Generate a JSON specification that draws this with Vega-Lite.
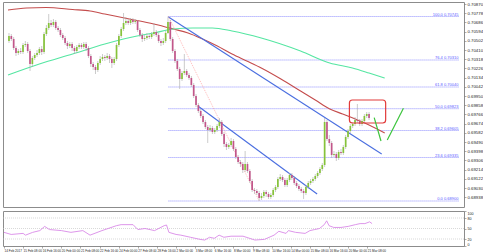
{
  "$schema": "https://vega.github.io/schema/vega-lite/v6.json",
  "padding": {"left": 1, "top": 1, "right": 0, "bottom": 0},
  "background": "white",
  "spacing": 2,
  "config": {
    "view": {"stroke": "#8c8c8c", "strokeWidth": 1},
    "font": "Liberation Sans",
    "axis": {"labelFont": "Liberation Sans", "labelFontSize": 4.3, "labelColor": "#222222", "tickSize": 2, "tickColor": "#777777", "tickWidth": 0.6, "labelPadding": 1, "domain": false, "grid": false, "title": null, "labelOverlap": false}
  },
  "datasets": {
    "candles": [
      {"i":0,"o":0.7050,"h":0.7058,"l":0.7048,"c":0.7055},
      {"i":1,"o":0.7055,"h":0.7057,"l":0.7050,"c":0.7052},
      {"i":2,"o":0.7052,"h":0.7054,"l":0.7041,"c":0.7043},
      {"i":3,"o":0.7043,"h":0.7045,"l":0.7035,"c":0.7038},
      {"i":4,"o":0.7038,"h":0.7042,"l":0.7036,"c":0.7040},
      {"i":5,"o":0.7040,"h":0.7043,"l":0.7037,"c":0.7039},
      {"i":6,"o":0.7039,"h":0.7048,"l":0.7037,"c":0.7046},
      {"i":7,"o":0.7046,"h":0.7050,"l":0.7044,"c":0.7047},
      {"i":8,"o":0.7047,"h":0.7049,"l":0.7038,"c":0.7040},
      {"i":9,"o":0.7040,"h":0.7042,"l":0.7020,"c":0.7027},
      {"i":10,"o":0.7027,"h":0.7035,"l":0.7024,"c":0.7033},
      {"i":11,"o":0.7033,"h":0.7038,"l":0.7031,"c":0.7036},
      {"i":12,"o":0.7036,"h":0.7041,"l":0.7034,"c":0.7038},
      {"i":13,"o":0.7038,"h":0.7044,"l":0.7036,"c":0.7042},
      {"i":14,"o":0.7042,"h":0.7045,"l":0.7036,"c":0.7039},
      {"i":15,"o":0.7039,"h":0.7059,"l":0.7037,"c":0.7057},
      {"i":16,"o":0.7057,"h":0.7066,"l":0.7055,"c":0.7063},
      {"i":17,"o":0.7063,"h":0.7077,"l":0.7061,"c":0.7068},
      {"i":18,"o":0.7068,"h":0.7071,"l":0.7064,"c":0.7066},
      {"i":19,"o":0.7066,"h":0.7072,"l":0.7064,"c":0.7069},
      {"i":20,"o":0.7069,"h":0.7071,"l":0.7061,"c":0.7063},
      {"i":21,"o":0.7063,"h":0.7065,"l":0.7059,"c":0.7061},
      {"i":22,"o":0.7061,"h":0.7063,"l":0.7054,"c":0.7056},
      {"i":23,"o":0.7056,"h":0.7058,"l":0.7051,"c":0.7053},
      {"i":24,"o":0.7053,"h":0.7055,"l":0.7046,"c":0.7048},
      {"i":25,"o":0.7048,"h":0.7050,"l":0.7042,"c":0.7045},
      {"i":26,"o":0.7045,"h":0.7049,"l":0.7043,"c":0.7047},
      {"i":27,"o":0.7047,"h":0.7049,"l":0.7040,"c":0.7043},
      {"i":28,"o":0.7043,"h":0.7045,"l":0.7037,"c":0.7040},
      {"i":29,"o":0.7040,"h":0.7046,"l":0.7038,"c":0.7044},
      {"i":30,"o":0.7044,"h":0.7048,"l":0.7042,"c":0.7046},
      {"i":31,"o":0.7046,"h":0.7048,"l":0.7042,"c":0.7044},
      {"i":32,"o":0.7044,"h":0.7049,"l":0.7042,"c":0.7047},
      {"i":33,"o":0.7047,"h":0.7049,"l":0.7040,"c":0.7043},
      {"i":34,"o":0.7043,"h":0.7045,"l":0.7033,"c":0.7035},
      {"i":35,"o":0.7035,"h":0.7037,"l":0.7024,"c":0.7027},
      {"i":36,"o":0.7027,"h":0.7029,"l":0.7021,"c":0.7024},
      {"i":37,"o":0.7024,"h":0.7026,"l":0.7017,"c":0.7021},
      {"i":38,"o":0.7021,"h":0.7030,"l":0.7019,"c":0.7028},
      {"i":39,"o":0.7028,"h":0.7035,"l":0.7026,"c":0.7032},
      {"i":40,"o":0.7032,"h":0.7037,"l":0.7030,"c":0.7034},
      {"i":41,"o":0.7034,"h":0.7036,"l":0.7030,"c":0.7033},
      {"i":42,"o":0.7033,"h":0.7038,"l":0.7031,"c":0.7035},
      {"i":43,"o":0.7035,"h":0.7037,"l":0.7028,"c":0.7032},
      {"i":44,"o":0.7032,"h":0.7034,"l":0.7023,"c":0.7028},
      {"i":45,"o":0.7028,"h":0.7034,"l":0.7026,"c":0.7032},
      {"i":46,"o":0.7032,"h":0.7048,"l":0.7030,"c":0.7046},
      {"i":47,"o":0.7046,"h":0.7057,"l":0.7044,"c":0.7055},
      {"i":48,"o":0.7055,"h":0.7064,"l":0.7053,"c":0.7062},
      {"i":49,"o":0.7062,"h":0.7078,"l":0.7060,"c":0.7068},
      {"i":50,"o":0.7068,"h":0.7074,"l":0.7066,"c":0.7070},
      {"i":51,"o":0.7070,"h":0.7072,"l":0.7066,"c":0.7068},
      {"i":52,"o":0.7068,"h":0.7073,"l":0.7066,"c":0.7071},
      {"i":53,"o":0.7071,"h":0.7073,"l":0.7067,"c":0.7069},
      {"i":54,"o":0.7069,"h":0.7072,"l":0.7067,"c":0.7070},
      {"i":55,"o":0.7070,"h":0.7071,"l":0.7059,"c":0.7061},
      {"i":56,"o":0.7061,"h":0.7063,"l":0.7054,"c":0.7056},
      {"i":57,"o":0.7056,"h":0.7058,"l":0.7049,"c":0.7052},
      {"i":58,"o":0.7052,"h":0.7056,"l":0.7050,"c":0.7053},
      {"i":59,"o":0.7053,"h":0.7058,"l":0.7051,"c":0.7055},
      {"i":60,"o":0.7055,"h":0.7057,"l":0.7052,"c":0.7054},
      {"i":61,"o":0.7054,"h":0.7059,"l":0.7052,"c":0.7057},
      {"i":62,"o":0.7057,"h":0.7068,"l":0.7055,"c":0.7059},
      {"i":63,"o":0.7059,"h":0.7061,"l":0.7054,"c":0.7056},
      {"i":64,"o":0.7056,"h":0.7058,"l":0.7048,"c":0.7050},
      {"i":65,"o":0.7050,"h":0.7052,"l":0.7045,"c":0.7048},
      {"i":66,"o":0.7048,"h":0.7053,"l":0.7046,"c":0.7050},
      {"i":67,"o":0.7050,"h":0.7060,"l":0.7048,"c":0.7058},
      {"i":68,"o":0.7058,"h":0.70745,"l":0.7057,"c":0.7069},
      {"i":69,"o":0.7069,"h":0.7071,"l":0.7050,"c":0.7052},
      {"i":70,"o":0.7052,"h":0.7054,"l":0.7038,"c":0.7040},
      {"i":71,"o":0.7040,"h":0.7042,"l":0.7028,"c":0.7030},
      {"i":72,"o":0.7030,"h":0.7032,"l":0.7020,"c":0.7022},
      {"i":73,"o":0.7022,"h":0.7024,"l":0.7002,"c":0.7012},
      {"i":74,"o":0.7012,"h":0.7020,"l":0.7010,"c":0.7018},
      {"i":75,"o":0.7018,"h":0.7037,"l":0.7016,"c":0.7020},
      {"i":76,"o":0.7020,"h":0.7022,"l":0.7014,"c":0.7016},
      {"i":77,"o":0.7016,"h":0.7018,"l":0.7011,"c":0.7013},
      {"i":78,"o":0.7013,"h":0.7015,"l":0.7004,"c":0.7006},
      {"i":79,"o":0.7006,"h":0.7008,"l":0.6993,"c":0.6995},
      {"i":80,"o":0.6995,"h":0.6997,"l":0.6984,"c":0.6986},
      {"i":81,"o":0.6986,"h":0.6988,"l":0.6978,"c":0.6980},
      {"i":82,"o":0.6980,"h":0.6982,"l":0.6973,"c":0.6975},
      {"i":83,"o":0.6975,"h":0.6977,"l":0.6967,"c":0.6969},
      {"i":84,"o":0.6969,"h":0.6971,"l":0.6962,"c":0.6964},
      {"i":85,"o":0.6964,"h":0.6966,"l":0.6948,"c":0.6961},
      {"i":86,"o":0.6961,"h":0.6966,"l":0.6959,"c":0.6963},
      {"i":87,"o":0.6963,"h":0.6965,"l":0.6957,"c":0.6959},
      {"i":88,"o":0.6959,"h":0.6963,"l":0.6957,"c":0.6961},
      {"i":89,"o":0.6961,"h":0.6967,"l":0.6959,"c":0.6965},
      {"i":90,"o":0.6965,"h":0.6973,"l":0.6963,"c":0.6969},
      {"i":91,"o":0.6969,"h":0.6971,"l":0.6955,"c":0.6957},
      {"i":92,"o":0.6957,"h":0.6959,"l":0.6944,"c":0.6947},
      {"i":93,"o":0.6947,"h":0.6949,"l":0.6941,"c":0.6944},
      {"i":94,"o":0.6944,"h":0.6948,"l":0.6942,"c":0.6946},
      {"i":95,"o":0.6946,"h":0.6953,"l":0.6944,"c":0.6950},
      {"i":96,"o":0.6950,"h":0.6952,"l":0.6940,"c":0.6942},
      {"i":97,"o":0.6942,"h":0.6944,"l":0.6932,"c":0.6934},
      {"i":98,"o":0.6934,"h":0.6936,"l":0.6927,"c":0.6929},
      {"i":99,"o":0.6929,"h":0.6931,"l":0.6924,"c":0.6927},
      {"i":100,"o":0.6927,"h":0.6929,"l":0.6918,"c":0.6921},
      {"i":101,"o":0.6921,"h":0.6940,"l":0.6919,"c":0.6927},
      {"i":102,"o":0.6927,"h":0.6929,"l":0.6918,"c":0.6920},
      {"i":103,"o":0.6920,"h":0.6922,"l":0.6908,"c":0.6910},
      {"i":104,"o":0.6910,"h":0.6912,"l":0.6899,"c":0.6901},
      {"i":105,"o":0.6901,"h":0.6903,"l":0.6897,"c":0.6900},
      {"i":106,"o":0.6900,"h":0.6902,"l":0.6896,"c":0.6898},
      {"i":107,"o":0.6898,"h":0.6900,"l":0.6890,"c":0.6893},
      {"i":108,"o":0.6893,"h":0.6898,"l":0.6891,"c":0.6895},
      {"i":109,"o":0.6895,"h":0.6901,"l":0.6893,"c":0.6899},
      {"i":110,"o":0.6899,"h":0.6901,"l":0.6894,"c":0.6897},
      {"i":111,"o":0.6897,"h":0.6899,"l":0.6892,"c":0.6894},
      {"i":112,"o":0.6894,"h":0.6898,"l":0.6892,"c":0.6896},
      {"i":113,"o":0.6896,"h":0.6903,"l":0.6894,"c":0.6901},
      {"i":114,"o":0.6901,"h":0.6906,"l":0.6899,"c":0.6904},
      {"i":115,"o":0.6904,"h":0.6914,"l":0.6902,"c":0.6912},
      {"i":116,"o":0.6912,"h":0.6917,"l":0.6910,"c":0.6914},
      {"i":117,"o":0.6914,"h":0.6916,"l":0.6909,"c":0.6911},
      {"i":118,"o":0.6911,"h":0.6913,"l":0.6904,"c":0.6906},
      {"i":119,"o":0.6906,"h":0.6913,"l":0.6904,"c":0.6911},
      {"i":120,"o":0.6911,"h":0.6918,"l":0.6909,"c":0.6916},
      {"i":121,"o":0.6916,"h":0.6918,"l":0.6911,"c":0.6913},
      {"i":122,"o":0.6913,"h":0.6915,"l":0.6906,"c":0.6908},
      {"i":123,"o":0.6908,"h":0.6910,"l":0.6903,"c":0.6905},
      {"i":124,"o":0.6905,"h":0.6907,"l":0.6900,"c":0.6902},
      {"i":125,"o":0.6902,"h":0.6904,"l":0.6898,"c":0.6900},
      {"i":126,"o":0.6900,"h":0.6902,"l":0.6892,"c":0.6898},
      {"i":127,"o":0.6898,"h":0.6906,"l":0.6896,"c":0.6904},
      {"i":128,"o":0.6904,"h":0.6910,"l":0.6902,"c":0.6908},
      {"i":129,"o":0.6908,"h":0.6912,"l":0.6906,"c":0.6910},
      {"i":130,"o":0.6910,"h":0.6914,"l":0.6908,"c":0.6912},
      {"i":131,"o":0.6912,"h":0.6917,"l":0.6910,"c":0.6915},
      {"i":132,"o":0.6915,"h":0.6920,"l":0.6913,"c":0.6918},
      {"i":133,"o":0.6918,"h":0.6924,"l":0.6916,"c":0.6922},
      {"i":134,"o":0.6922,"h":0.6928,"l":0.6920,"c":0.6926},
      {"i":135,"o":0.6926,"h":0.6973,"l":0.6924,"c":0.6969},
      {"i":136,"o":0.6969,"h":0.6971,"l":0.6950,"c":0.6952},
      {"i":137,"o":0.6952,"h":0.6956,"l":0.6945,"c":0.6948},
      {"i":138,"o":0.6948,"h":0.6950,"l":0.6933,"c":0.6936},
      {"i":139,"o":0.6936,"h":0.6940,"l":0.6934,"c":0.6937},
      {"i":140,"o":0.6937,"h":0.6939,"l":0.6930,"c":0.6933},
      {"i":141,"o":0.6933,"h":0.6941,"l":0.6931,"c":0.6939},
      {"i":142,"o":0.6939,"h":0.6942,"l":0.6936,"c":0.6938},
      {"i":143,"o":0.6938,"h":0.6946,"l":0.6936,"c":0.6944},
      {"i":144,"o":0.6944,"h":0.6956,"l":0.6942,"c":0.6954},
      {"i":145,"o":0.6954,"h":0.6962,"l":0.6952,"c":0.6960},
      {"i":146,"o":0.6960,"h":0.6967,"l":0.6958,"c":0.6965},
      {"i":147,"o":0.6965,"h":0.6969,"l":0.6963,"c":0.6967},
      {"i":148,"o":0.6967,"h":0.6974,"l":0.6965,"c":0.6971},
      {"i":149,"o":0.6971,"h":0.6987,"l":0.6968,"c":0.6970},
      {"i":150,"o":0.6970,"h":0.6972,"l":0.6965,"c":0.6967},
      {"i":151,"o":0.6967,"h":0.6972,"l":0.6965,"c":0.6970},
      {"i":152,"o":0.6970,"h":0.6977,"l":0.6968,"c":0.6975},
      {"i":153,"o":0.6975,"h":0.6979,"l":0.6973,"c":0.6977},
      {"i":154,"o":0.6977,"h":0.6979,"l":0.6971,"c":0.6973}
    ],
    "ma": [
      {"ma":"red","i":-0.42,"p":0.7081},{"ma":"red","i":7.5,"p":0.7083},{"ma":"red","i":15.9,"p":0.70835},{"ma":"red","i":27.2,"p":0.70815},{"ma":"red","i":34.7,"p":0.7080},{"ma":"red","i":41.0,"p":0.7077},{"ma":"red","i":51.5,"p":0.7072},{"ma":"red","i":61.9,"p":0.7067},{"ma":"red","i":70.3,"p":0.7062},{"ma":"red","i":76.6,"p":0.7058},{"ma":"red","i":82.8,"p":0.7052},{"ma":"red","i":89.1,"p":0.7045},{"ma":"red","i":95.4,"p":0.7037},{"ma":"red","i":101.7,"p":0.7030},{"ma":"red","i":107.9,"p":0.7023},{"ma":"red","i":116.3,"p":0.7012},{"ma":"red","i":124.7,"p":0.7000},{"ma":"red","i":131.0,"p":0.6991},{"ma":"red","i":137.2,"p":0.6982},{"ma":"red","i":142.7,"p":0.6977},{"ma":"red","i":148.1,"p":0.6972},{"ma":"red","i":154.0,"p":0.6966},{"ma":"red","i":160.7,"p":0.6958},
      {"ma":"green","i":-0.42,"p":0.7016},{"ma":"green","i":13.0,"p":0.7027},{"ma":"green","i":27.2,"p":0.7037},{"ma":"green","i":41.0,"p":0.7047},{"ma":"green","i":54.8,"p":0.7055},{"ma":"green","i":61.9,"p":0.7058},{"ma":"green","i":70.3,"p":0.7062},{"ma":"green","i":78.7,"p":0.7063},{"ma":"green","i":87.0,"p":0.7063},{"ma":"green","i":95.4,"p":0.7060},{"ma":"green","i":107.9,"p":0.7053},{"ma":"green","i":124.7,"p":0.7040},{"ma":"green","i":137.2,"p":0.7028},{"ma":"green","i":146.9,"p":0.7023},{"ma":"green","i":154.0,"p":0.7018},{"ma":"green","i":160.7,"p":0.7013}
    ],
    "fib": [
      {"p":0.70745,"label":"100.0  0.70745"},
      {"p":0.70310,"label":"76.4  0.70310"},
      {"p":0.70040,"label":"61.8  0.70040"},
      {"p":0.69823,"label":"50.0  0.69823"},
      {"p":0.69605,"label":"38.2  0.69605"},
      {"p":0.69335,"label":"23.6  0.69335"},
      {"p":0.68900,"label":"0.0  0.68900"}
    ],
    "trend": [
      {"id":"t1","i":68.2,"p":0.7074},{"id":"t1","i":159.4,"p":0.6937},
      {"id":"t2","i":80.8,"p":0.6985},{"id":"t2","i":131.8,"p":0.6897}
    ],
    "fibdiag": [
      {"i":68.2,"p":0.70745},{"i":107,"p":0.6890}
    ],
    "arrow": [
      {"id":"a1","i":156.2,"p":0.69733},{"id":"a1","i":159.1,"p":0.6950},
      {"id":"a2","i":161.8,"p":0.6951},{"id":"a2","i":168.7,"p":0.69827}
    ],
    "box": [
      {"i1":145.6,"i2":161.1,"p1":0.6991,"p2":0.6968}
    ],
    "rsi": [
      {"i":0,"v":39},{"i":3,"v":33},{"i":8,"v":36},{"i":9,"v":31},{"i":12,"v":39},{"i":15,"v":44},{"i":17,"v":56},{"i":19,"v":47},{"i":24,"v":44},{"i":28,"v":39},{"i":33,"v":44},{"i":36,"v":31},{"i":41,"v":44},{"i":47,"v":58},{"i":49,"v":61},{"i":54,"v":61},{"i":56,"v":47},{"i":59,"v":50},{"i":63,"v":44},{"i":67,"v":58},{"i":68,"v":60},{"i":69,"v":39},{"i":72,"v":33},{"i":74,"v":31},{"i":78,"v":25},{"i":82,"v":19},{"i":84,"v":17},{"i":86,"v":25},{"i":88,"v":22},{"i":90,"v":31},{"i":92,"v":25},{"i":95,"v":28},{"i":100,"v":28},{"i":105,"v":17},{"i":109,"v":19},{"i":113,"v":31},{"i":115,"v":42},{"i":118,"v":36},{"i":119,"v":44},{"i":122,"v":39},{"i":126,"v":36},{"i":128,"v":44},{"i":130,"v":47},{"i":132,"v":50},{"i":134,"v":61},{"i":135,"v":72},{"i":136,"v":58},{"i":138,"v":53},{"i":141,"v":53},{"i":144,"v":56},{"i":147,"v":61},{"i":149,"v":64},{"i":151,"v":64},{"i":153,"v":69},{"i":154,"v":64}
    ],
    "rsilevels": [{"v":80},{"v":50},{"v":20}]
  },
  "vconcat": [
    {
      "width": 461,
      "height": 205,
      "resolve": {"axis": {"x": "independent", "y": "independent"}},
      "layer": [
        {
          "data": {"name": "fib"},
          "mark": {"type": "rule", "color": "#7474ff", "strokeWidth": 0.8, "strokeDash": [1, 1]},
          "encoding": {
            "x": {"datum": 68.2, "type": "quantitative", "scale": {"domain": [-0.42, 192.47], "nice": false, "zero": false}, "axis": null},
            "x2": {"datum": 192.47},
            "y": {"field": "p", "type": "quantitative", "scale": {"domain": [0.6884, 0.7089], "nice": false, "zero": false},
              "axis": {"orient": "right", "values": [0.7087,0.70778,0.70686,0.70594,0.70502,0.7041,0.70318,0.70226,0.70134,0.70042,0.6995,0.69858,0.69766,0.69674,0.69582,0.6949,0.69398,0.69306,0.69214,0.69122,0.6903,0.68938], "format": ".5f", "title": null, "labelOverlap": false, "labelFlush": true}}
          }
        },
        {
          "data": {"name": "fib"},
          "mark": {"type": "text", "color": "#5a5aff", "fontSize": 4, "align": "right", "baseline": "bottom", "dy": 0.3},
          "encoding": {
            "x": {"datum": 192.2, "type": "quantitative", "axis": null},
            "y": {"field": "p", "type": "quantitative", "axis": null},
            "text": {"field": "label"}
          }
        },
        {
          "mark": {"type": "rule", "color": "#c4c4c4", "strokeWidth": 0.6},
          "encoding": {"y": {"datum": 0.6973, "type": "quantitative", "axis": null}}
        },
        {
          "data": {"name": "ma"},
          "mark": {"type": "line", "strokeWidth": 1.1, "interpolate": "monotone"},
          "encoding": {
            "x": {"field": "i", "type": "quantitative", "axis": null},
            "y": {"field": "p", "type": "quantitative", "axis": null},
            "detail": {"field": "ma"},
            "color": {"field": "ma", "type": "nominal", "scale": {"domain": ["red", "green"], "range": ["#c44c4c", "#55e6a2"]}, "legend": null}
          }
        },
        {
          "data": {"name": "trend"},
          "mark": {"type": "line", "color": "#4a6ee0", "strokeWidth": 1.1},
          "encoding": {
            "x": {"field": "i", "type": "quantitative", "axis": null},
            "y": {"field": "p", "type": "quantitative", "axis": null},
            "detail": {"field": "id"}
          }
        },
        {
          "data": {"name": "fibdiag"},
          "mark": {"type": "line", "color": "#ff8a8a", "strokeWidth": 0.6, "strokeDash": [1, 1]},
          "encoding": {
            "x": {"field": "i", "type": "quantitative", "axis": null},
            "y": {"field": "p", "type": "quantitative", "axis": null}
          }
        },
        {
          "data": {"name": "candles"},
          "mark": {"type": "rule", "color": "#a8a8a8", "strokeWidth": 0.6},
          "encoding": {
            "x": {"field": "i", "type": "quantitative", "axis": null},
            "y": {"field": "l", "type": "quantitative", "axis": null},
            "y2": {"field": "h"}
          }
        },
        {
          "data": {"name": "candles"},
          "mark": {"type": "bar", "size": 1.7},
          "encoding": {
            "x": {"field": "i", "type": "quantitative", "axis": null},
            "y": {"field": "o", "type": "quantitative", "axis": null},
            "y2": {"field": "c"},
            "color": {"condition": {"test": "datum.c >= datum.o", "value": "#86c33a"}, "value": "#c2568a"}
          }
        },
        {
          "data": {"name": "box"},
          "mark": {"type": "rect", "fill": null, "fillOpacity": 0, "stroke": "#e23a3a", "strokeWidth": 1.2, "cornerRadius": 3},
          "encoding": {
            "x": {"field": "i1", "type": "quantitative", "axis": null},
            "x2": {"field": "i2"},
            "y": {"field": "p1", "type": "quantitative", "axis": null},
            "y2": {"field": "p2"}
          }
        },
        {
          "data": {"name": "arrow"},
          "mark": {"type": "line", "color": "#3cc43c", "strokeWidth": 1.2},
          "encoding": {
            "x": {"field": "i", "type": "quantitative", "axis": null},
            "y": {"field": "p", "type": "quantitative", "axis": null},
            "detail": {"field": "id"}
          }
        },
        {
          "mark": {"type": "text", "text": "NZDUSD,H4  0.69770 0.69790 0.69710 0.69730", "fontSize": 4, "color": "#111111", "align": "left", "baseline": "top", "dx": 2, "dy": 1},
          "encoding": {
            "x": {"datum": -0.42, "type": "quantitative", "axis": null},
            "y": {"datum": 0.7089, "type": "quantitative", "axis": null}
          }
        },
        {
          "mark": {"type": "rect", "fill": "#1e1e1e", "clip": false},
          "encoding": {
            "x": {"datum": 192.47, "type": "quantitative", "axis": null},
            "x2": {"datum": 201.5},
            "y": {"datum": 0.69757, "type": "quantitative", "axis": null},
            "y2": {"datum": 0.69703}
          }
        },
        {
          "mark": {"type": "text", "text": "0.69730", "fontSize": 4.2, "color": "white", "align": "left", "baseline": "middle", "dx": 1.5},
          "encoding": {
            "x": {"datum": 192.47, "type": "quantitative", "axis": null},
            "y": {"datum": 0.6973, "type": "quantitative", "axis": null}
          }
        }
      ]
    },
    {
      "width": 461,
      "height": 35,
      "resolve": {"axis": {"x": "independent", "y": "independent"}},
      "layer": [
        {
          "data": {"name": "rsilevels"},
          "mark": {"type": "rule", "color": "#c0c0c0", "strokeWidth": 0.6, "strokeDash": [1, 1]},
          "encoding": {
            "y": {"field": "v", "type": "quantitative", "scale": {"domain": [0, 100], "nice": false}, "axis": {"orient": "right", "values": [0, 20, 50, 80, 100], "title": null, "labelOverlap": false, "labelFlush": true, "labelFontSize": 3.6}}
          }
        },
        {
          "data": {"name": "rsi"},
          "mark": {"type": "line", "color": "#d98ae8", "strokeWidth": 0.9},
          "encoding": {
            "x": {"field": "i", "type": "quantitative", "scale": {"domain": [-0.42, 192.47], "nice": false, "zero": false},
              "axis": {"orient": "bottom", "values": [0,8,16,24,32,40,48,56,64,72,80,88,96,104,112,120,128,136,144,152], "labelAlign": "left", "labelFontSize": 3.1, "labelPadding": 1, "title": null, "labelOverlap": false,
                "labelExpr": "['14 Feb 2017','15 Feb 08:00','16 Feb 16:00','20 Feb 00:00','21 Feb 08:00','22 Feb 16:00','24 Feb 00:00','27 Feb 08:00','28 Feb 16:00','2 Mar 00:00','3 Mar 08:00','6 Mar 16:00','8 Mar 00:00','9 Mar 08:00','10 Mar 16:00','14 Mar 00:00','15 Mar 08:00','16 Mar 16:00','20 Mar 00:00','21 Mar 08:00'][round(datum.value / 8)]"}},
            "y": {"field": "v", "type": "quantitative", "axis": null}
          }
        },
        {
          "mark": {"type": "text", "text": "RSI(14) 64.1839", "fontSize": 4, "color": "#111111", "align": "left", "baseline": "top", "dx": 2, "dy": 1},
          "encoding": {
            "x": {"datum": -0.42, "type": "quantitative", "axis": null},
            "y": {"datum": 100, "type": "quantitative", "axis": null}
          }
        }
      ]
    }
  ]
}
